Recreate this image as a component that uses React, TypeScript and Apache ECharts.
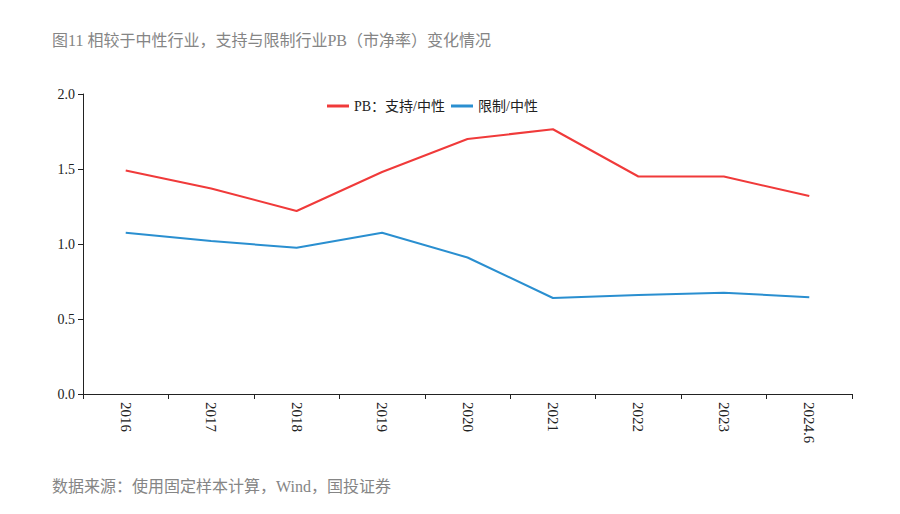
import React, { useEffect, useRef } from "react";
import * as echarts from "echarts";

const categories = ["2016", "2017", "2018", "2019", "2020", "2021", "2022", "2023", "2024.6"];
const supportPB = [1.49, 1.37, 1.22, 1.48, 1.70, 1.765, 1.45, 1.45, 1.32];
const restrictPB = [1.075, 1.02, 0.975, 1.075, 0.91, 0.64, 0.66, 0.675, 0.645];
const yTicks = [0, 0.5, 1.0, 1.5, 2.0];

const titleText = "图11 相较于中性行业，支持与限制行业PB（市净率）变化情况";
const sourceText = "数据来源：使用固定样本计算，Wind，国投证券";
const seriesNames = ["PB：支持/中性", "限制/中性"];

export default function App() {
  const ref = useRef<HTMLDivElement>(null);
  useEffect(() => {
    document.body.style.margin = "0";
    const chart = echarts.init(ref.current!, null, { renderer: "svg" });
    const serif = "'Liberation Serif', 'Noto Sans CJK SC', serif";
    chart.setOption({
      animation: false,
      backgroundColor: "#ffffff",
      title: {
        text: titleText,
        left: 47,
        top: 27,
        textStyle: { fontSize: 16, fontWeight: "normal", color: "#858585", fontFamily: serif },
      },
      legend: {
        top: 94,
        left: 322,
        itemWidth: 22,
        itemHeight: 3,
        itemGap: 6,
        icon: "rect",
        textStyle: { fontSize: 14, color: "#222", fontFamily: serif },
        data: seriesNames,
      },
      grid: { left: 83, right: 48, top: 94, bottom: 120 },
      xAxis: {
        type: "category",
        data: categories,
        boundaryGap: true,
        axisLine: { lineStyle: { color: "#222", width: 1 } },
        axisTick: { show: true, alignWithLabel: false, length: 5, lineStyle: { color: "#222" } },
        axisLabel: { rotate: -90, fontSize: 15, color: "#222", margin: 8, fontFamily: serif },
      },
      yAxis: {
        type: "value",
        min: 0,
        max: 2,
        interval: 0.5,
        splitLine: { show: false },
        axisLine: { show: true, lineStyle: { color: "#222", width: 1 } },
        axisTick: { show: true, length: 5, lineStyle: { color: "#222" } },
        axisLabel: {
          fontSize: 14,
          color: "#222",
          margin: 8,
          fontFamily: serif,
          formatter: (v: number) => (yTicks.includes(v) ? v.toFixed(1) : ""),
        },
      },
      series: [
        {
          name: seriesNames[0],
          type: "line",
          data: supportPB,
          symbol: "none",
          lineStyle: { color: "#f03a3a", width: 2 },
          itemStyle: { color: "#f03a3a" },
        },
        {
          name: seriesNames[1],
          type: "line",
          data: restrictPB,
          symbol: "none",
          lineStyle: { color: "#2a8fd0", width: 2 },
          itemStyle: { color: "#2a8fd0" },
        },
      ],
      graphic: [
        {
          type: "text",
          left: 52,
          top: 478,
          style: { text: sourceText, fontSize: 16, fill: "#858585", fontFamily: serif },
        },
      ],
    });
    return () => chart.dispose();
  }, []);
  return <div ref={ref} style={{ width: 900, height: 514 }} />;
}
